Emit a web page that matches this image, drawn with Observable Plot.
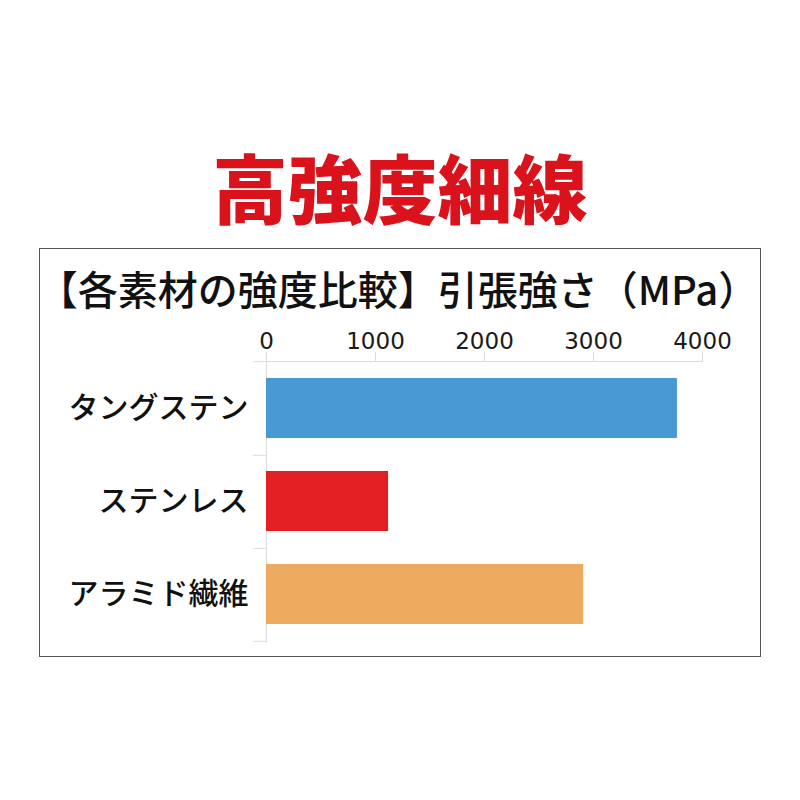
<!DOCTYPE html>
<html><head><meta charset="utf-8">
<script src="https://cdn.jsdelivr.net/npm/d3@7"></script>
<script src="https://cdn.jsdelivr.net/npm/@observablehq/plot@0.6"></script>
<style>
body{margin:0;background:#fff;}
#page{position:relative;width:800px;height:800px;font-family:"Noto Sans CJK JP",sans-serif;overflow:hidden;}
#title{position:absolute;left:0;width:800px;top:148px;text-align:center;font-size:75px;font-weight:900;color:#d9121b;line-height:1;}
#frame{position:absolute;left:39px;top:248px;width:720px;height:407px;border:1px solid #555;}
#heading{position:absolute;left:0;width:796px;top:268px;text-align:center;font-size:40px;font-weight:500;line-height:1;color:#111;}
#chart{position:absolute;left:0;top:300px;}
</style></head>
<body>
<div id="page">
  <div id="title">高強度細線</div>
  <div id="frame"></div>
  <div id="heading">【各素材の強度比較】引張強さ（MPa）</div>
  <div id="chart"></div>
</div>
<script>
const materials = ["タングステン", "ステンレス", "アラミド繊維"];
const strengths = [3770, 1120, 2910];
const barColors = ["#4798d3", "#e31f24", "#eeaa5f"];
const xTicks = [0, 1000, 2000, 3000, 4000];

const data = materials.map((m, i) => ({name: m, value: strengths[i]}));

const H = 342, MT = 61, MB = 0;
const step = (H - MT - MB) / materials.length;

const chart = Plot.plot({
  width: 800,
  height: H,
  marginLeft: 266,
  marginRight: 98,
  marginTop: MT,
  marginBottom: MB,
  style: {fontFamily: "'DejaVu Sans', sans-serif", background: "transparent", overflow: "visible"},
  x: {domain: [0, 4000], axis: null},
  y: {domain: materials, paddingInner: 0.35, paddingOuter: 0.175, axis: null},
  color: {domain: materials, range: barColors},
  marks: [
    Plot.frame({anchor: "top", stroke: "#dcdcdc"}),
    Plot.frame({anchor: "left", stroke: "#dcdcdc"}),
    Plot.axisX({anchor: "top", ticks: xTicks, tickSize: 10, tickPadding: 3, stroke: "#dcdcdc", fill: "#1a1a1a", fontSize: 23, label: null, tickFormat: d => String(d)}),
    Plot.axisY({anchor: "left", tickSize: 13, tickFormat: () => "", dy: step / 2, stroke: "#dcdcdc", label: null}),
    Plot.axisY({anchor: "left", ticks: [materials[0]], tickSize: 13, tickFormat: () => "", dy: -step / 2, stroke: "#dcdcdc", label: null}),
    Plot.axisY({anchor: "left", tickSize: 0, tickPadding: 18, fontSize: 30, fontWeight: 500, fill: "#111", fontFamily: "'Noto Sans CJK JP'", label: null}),
    Plot.barX(data, {x: "value", y: "name", fill: "name"})
  ]
});
document.getElementById("chart").appendChild(chart);
</script>
</body></html>
